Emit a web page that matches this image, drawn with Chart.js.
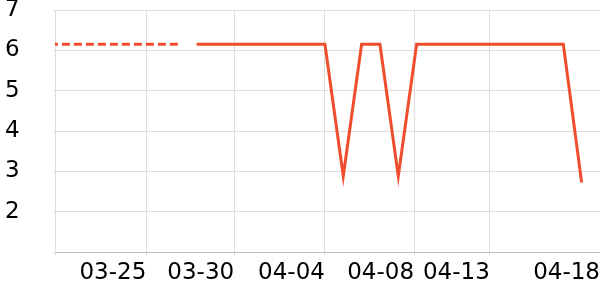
<!DOCTYPE html>
<html>
<head>
<meta charset="utf-8">
<script src="https://cdn.jsdelivr.net/npm/chart.js@4/dist/chart.umd.min.js"></script>
<style>
  html, body { margin: 0; padding: 0; background: #fff; }
  #wrap { width: 600px; height: 300px; position: relative; }
</style>
</head>
<body>
<div id="wrap"><canvas id="chart"></canvas></div>
<script>
// posisi titik (hari ke-n)
const days = [0, 1, 2, 3, 4, 5, 6, 7, 8, 9, 10, 11, 12, 13, 14, 15, 16, 17, 18, 19, 20, 21, 22, 23, 24, 25, 26, 27, 28, 29];

// garis putus-putus (bagian awal)
const planned = [6.15, 6.15, 6.15, 6.15, 6.15, 6.15, 6.15, 6.15,
  null, null, null, null, null, null, null, null, null, null, null, null,
  null, null, null, null, null, null, null, null, null, null];

// garis utama
const actual = [null, null, null, null, null, null, null, null,
  6.15, 6.15, 6.15, 6.15, 6.15, 6.15, 6.15, 6.15, 2.88, 6.15, 6.15, 2.88,
  6.15, 6.15, 6.15, 6.15, 6.15, 6.15, 6.15, 6.15, 6.15, 2.72];

// label sumbu x
const xTickPos = [0.28, 5.26, 10.05, 15, 19.86, 23.99, 30];
const xTickLabels = ["", "03-25", "03-30", "04-04", "04-08", "04-13", "04-18"];

// label sumbu y
const yTicks = [1, 2, 3, 4, 5, 6, 7];
const yTickLabels = ["", "2", "3", "4", "5", "6", "7"];

const lineColor = "#ef4e2e";
const font = { family: "DejaVu Sans", size: 23 };

const ctx = document.getElementById("chart").getContext("2d");

new Chart(ctx, {
  type: "line",
  data: {
    datasets: [
      {
        data: days.map((d, i) => ({ x: d, y: planned[i] })),
        borderColor: lineColor,
        borderWidth: 3,
        borderDash: [8, 4],
        pointRadius: 0,
        fill: false,
        clip: 0,
      },
      {
        data: days.map((d, i) => ({ x: d, y: actual[i] })),
        borderColor: lineColor,
        borderWidth: 3,
        pointRadius: 0,
        fill: false,
      },
    ],
  },
  options: {
    responsive: true,
    maintainAspectRatio: false,
    animation: false,
    layout: { padding: { left: 5, right: 0, top: 0, bottom: 0 } },
    plugins: {
      legend: { display: false },
      tooltip: { enabled: false },
    },
    scales: {
      x: {
        type: "linear",
        min: xTickPos[0],
        max: xTickPos[xTickPos.length - 1],
        afterBuildTicks: (scale) => {
          scale.ticks = xTickPos.map((v) => ({ value: v }));
        },
        afterFit: (scale) => {
          scale.height = 48;
          scale.paddingLeft = 0;
          scale.paddingRight = 0;
        },
        ticks: {
          autoSkip: false,
          maxRotation: 0,
          align: "end",
          padding: 4,
          color: "#000",
          font: font,
          callback: (value, index) => xTickLabels[index],
        },
        grid: { color: "#dddddd", tickLength: 3 },
        border: { color: "#bbbbbb" },
      },
      y: {
        min: 1,
        max: 7,
        afterBuildTicks: (scale) => {
          scale.ticks = yTicks.map((v) => ({ value: v }));
        },
        afterFit: (scale) => {
          scale.width = 50;
          scale.paddingTop = 10;
          scale.paddingBottom = 0;
        },
        ticks: {
          crossAlign: "far",
          color: "#000",
          font: font,
          callback: (value, index) => yTickLabels[index],
        },
        grid: { color: "#dddddd", tickLength: 2 },
        border: { color: "#dddddd" },
      },
    },
  },
});
</script>
</body>
</html>
